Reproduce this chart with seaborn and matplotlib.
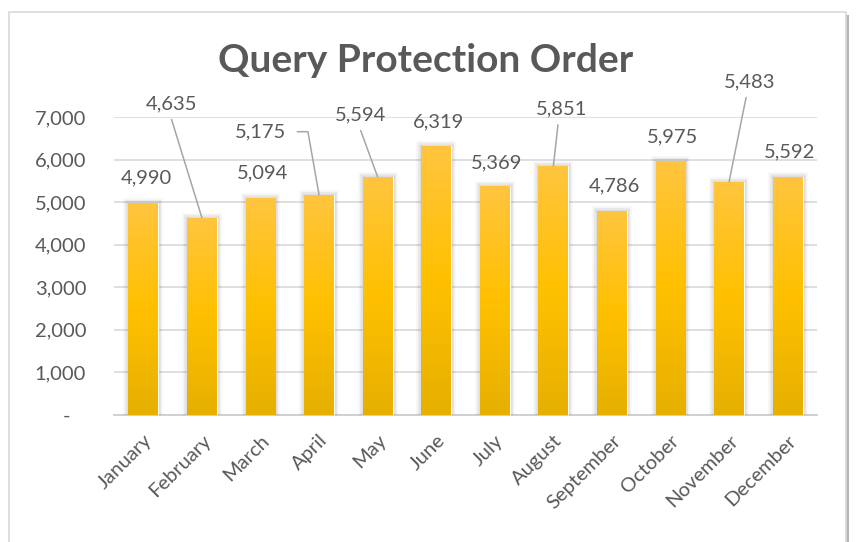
import numpy as np
import matplotlib
matplotlib.use('Agg')
import matplotlib.pyplot as plt
import matplotlib.patheffects as pe
from matplotlib.colors import LinearSegmentedColormap
from matplotlib.patches import Rectangle
from matplotlib.ticker import FuncFormatter
import seaborn as sns

# data
months = ['January', 'February', 'March', 'April', 'May', 'June',
          'July', 'August', 'September', 'October', 'November', 'December']
orders = [4990, 4635, 5094, 5175, 5594, 6319, 5369, 5851, 4786, 5975, 5483, 5592]

# label placement (pixel offsets from bar top) and which ones get leader lines
label_dx = [3, -30, 2, -59, -17, 2, 2, 8, 2, 2, 21, 2]
label_dy = [25, 114, 25, 63, 62, 24, 24, 57, 25, 24, 100, 25]
leader = [False, True, False, True, True, False, False, True, False, False, True, False]

sns.set_style('white')
plt.rcParams['font.family'] = ['Lato', 'DejaVu Sans']

text_col = '#595959'
grid_col = '#D9D9D9'
fs = 14.5

fig = plt.figure(figsize=(8.58, 5.42), dpi=100)
fig.patch.set_facecolor('white')

# chart border with a soft shadow on the right
shadow = Rectangle((12 / 858, -0.05), 837 / 858, 1 - 12 / 542 + 0.05 - 3 / 542,
                   transform=fig.transFigure, facecolor='#B5B5B5', edgecolor='none', zorder=-2)
border = Rectangle((9 / 858, -0.05), 837 / 858, 1 - 12 / 542 + 0.05,
                   transform=fig.transFigure, facecolor='white', edgecolor=grid_col,
                   lw=1.2, zorder=-1)
fig.patches.extend([shadow, border])

ax = fig.add_axes([114 / 858, 1 - 415 / 542, (817 - 114) / 858, (415 - 117) / 542])
ax.set_facecolor('none')

sns.barplot(x=months, y=orders, ax=ax, width=0.51, color='#FFC000', saturation=1, zorder=3)

ax.set_ylim(0, 7000)
ax.set_xlim(-0.5, 11.5)
ax.set_yticks(range(0, 7001, 1000))
ax.yaxis.set_major_formatter(FuncFormatter(lambda v, p: '-   ' if v == 0 else f'{v:,.0f}'))
ax.grid(axis='y', color=grid_col, lw=1.2, zorder=0)
ax.set_axisbelow(True)
for s in ['top', 'right', 'left']:
    ax.spines[s].set_visible(False)
ax.spines['bottom'].set_color('#D0D0D0')
ax.spines['bottom'].set_linewidth(1.4)
ax.tick_params(axis='y', length=0, pad=20, labelsize=fs, labelcolor=text_col)
ax.tick_params(axis='x', length=0, pad=12, labelsize=fs, labelcolor=text_col)
ax.set_xlabel('')
ax.set_ylabel('')
for lab in ax.get_xticklabels():
    lab.set_rotation(45)
    lab.set_ha('right')
    lab.set_va('top')
    lab.set_rotation_mode('anchor')

# gold gradient on each bar, plus a soft shadow round it
cmap = LinearSegmentedColormap.from_list('gold', ['#E6B000', '#FFC000', '#FFC53F'])
grad = np.linspace(0, 1, 256).reshape(-1, 1)
for bar in ax.patches:
    bar.set_path_effects([pe.Stroke(linewidth=7, foreground='#000000', alpha=0.03),
                          pe.Stroke(linewidth=4.5, foreground='#000000', alpha=0.05),
                          pe.Stroke(linewidth=2.5, foreground='#000000', alpha=0.08),
                          pe.Normal()])
    x0, w, h = bar.get_x(), bar.get_width(), bar.get_height()
    im = ax.imshow(grad, extent=[x0, x0 + w, 0, h], origin='lower', aspect='auto',
                   cmap=cmap, zorder=4)
    im.set_clip_path(bar)
ax.set_ylim(0, 7000)
ax.set_xlim(-0.5, 11.5)

# data labels
for i, v in enumerate(orders):
    kw = {}
    if leader[i]:
        kw['arrowprops'] = dict(arrowstyle='-', color='#A6A6A6', lw=1.1,
                                shrinkA=3, shrinkB=0, relpos=(0.45, 0))
        if months[i] == 'April':
            kw['arrowprops'].update(relpos=(1, 0.5), shrinkA=6,
                                    connectionstyle='angle,angleA=0,angleB=100,rad=0')
    ax.annotate(f'{v:,}', xy=(i, v), xytext=(label_dx[i], label_dy[i]),
                textcoords='offset pixels', ha='center', va='center',
                fontsize=fs, color=text_col, zorder=6, **kw)

fig.text(426 / 858, 1 - 61 / 542, 'Query Protection Order', ha='center', va='center',
         fontsize=28, fontweight='bold', color=text_col)

fig.savefig('out.png', dpi=100)
